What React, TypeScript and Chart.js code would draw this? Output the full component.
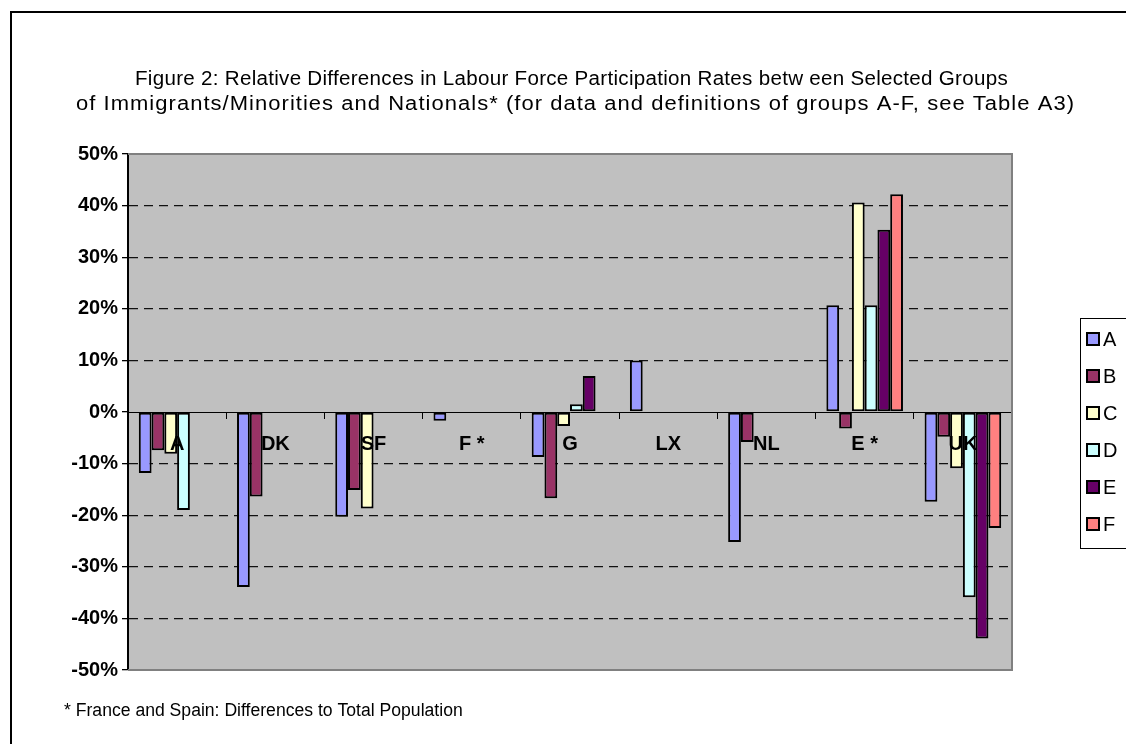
import React, { useEffect, useRef } from 'react';
import { Chart, registerables } from 'chart.js';

Chart.register(...registerables);

const categories = ['A', 'DK', 'SF', 'F *', 'G', 'LX', 'NL', 'E *', 'UK'];
const seriesNames = ['A', 'B', 'C', 'D', 'E', 'F'];
const seriesA = [-11.8, -33.9, -20.3, -1.7, -8.7, 10.0, -25.2, 20.7, -17.4];
const seriesB = [-7.4, -16.4, -15.1, null, -16.7, null, -5.8, -3.2, -4.8];
const seriesC = [-8.1, null, -18.7, null, -2.7, null, null, 40.6, -10.9];
const seriesD = [-19.0, null, null, null, 1.5, null, null, 20.7, -35.9];
const seriesE = [null, null, null, null, 7.0, null, null, 35.3, -43.9];
const seriesF = [null, null, null, null, null, null, null, 42.2, -22.5];
const seriesColors = ['#9999FF', '#993366', '#FFFFCC', '#CCFFFF', '#660066', '#FF8080'];
const yMin = -50;
const yMax = 50;
const yStep = 10;
const titleLines = [
  'Figure 2: Relative Differences in Labour Force Participation Rates betw een Selected Groups',
  'of Immigrants/Minorities and Nationals* (for data and definitions of groups A-F, see Table A3)',
];
const footnote = '* France and Spain: Differences to Total Population';

const FONT = '"Liberation Sans", Arial, sans-serif';

function spacedText(ctx: any, text: string, left: number, right: number, y: number) {
  ctx.save();
  ctx.letterSpacing = '0px';
  const w = ctx.measureText(text).width;
  const target = right - left;
  const ls = Math.max(0, (target - w) / text.length / 2);
  ctx.letterSpacing = `${ls}px`;
  const w2 = ctx.measureText(text).width;
  ctx.translate(left, y);
  if (w2 > 0) ctx.scale(target / w2, 1);
  ctx.textAlign = 'left';
  ctx.fillText(text, 0, 0);
  ctx.restore();
}

const decorPlugin = {
  id: 'decor',
  beforeDraw(chart: any) {
    const { ctx, chartArea: a } = chart;
    ctx.save();
    ctx.fillStyle = '#ffffff';
    ctx.fillRect(0, 0, chart.width, chart.height);
    ctx.fillStyle = '#C0C0C0';
    ctx.fillRect(a.left, a.top, a.right - a.left, a.bottom - a.top);
    // outer frame
    ctx.strokeStyle = '#000';
    ctx.lineWidth = 2;
    ctx.beginPath();
    ctx.moveTo(11, chart.height + 10);
    ctx.lineTo(11, 12);
    ctx.lineTo(chart.width + 10, 12);
    ctx.stroke();
    // title
    ctx.fillStyle = '#000';
    ctx.font = `20px ${FONT}`;
    ctx.textBaseline = 'middle';
    spacedText(ctx, titleLines[0], 135, 1008, 79);
    spacedText(ctx, titleLines[1], 76, 1075, 104);
    // footnote
    ctx.textAlign = 'left';
    ctx.font = `17.6px ${FONT}`;
    ctx.fillText(footnote, 64, 711);
    ctx.restore();
  },
  afterDraw(chart: any) {
    const { ctx, chartArea: a } = chart;
    ctx.save();
    ctx.strokeStyle = '#808080';
    ctx.lineWidth = 2;
    ctx.beginPath();
    ctx.moveTo(a.left, a.top);
    ctx.lineTo(a.right, a.top);
    ctx.lineTo(a.right, a.bottom);
    ctx.lineTo(a.left, a.bottom);
    ctx.stroke();
    // legend
    ctx.strokeStyle = '#000';
    ctx.lineWidth = 1;
    ctx.strokeRect(1080.5, 318.5, 80, 230);
    ctx.font = `20px ${FONT}`;
    ctx.textAlign = 'left';
    ctx.textBaseline = 'middle';
    chart.data.datasets.forEach((ds: any, i: number) => {
      const cy = 339 + i * 37;
      ctx.fillStyle = ds.backgroundColor;
      ctx.fillRect(1087, cy - 6, 12, 12);
      ctx.lineWidth = 2;
      ctx.strokeStyle = '#000';
      ctx.strokeRect(1087, cy - 6, 12, 12);
      ctx.fillStyle = '#000';
      ctx.fillText(ds.label, 1103, cy + 1);
    });
    ctx.restore();
  },
};

export default function App() {
  const ref = useRef<HTMLCanvasElement>(null);
  useEffect(() => {
    document.body.style.margin = '0';
    const allSeries = [seriesA, seriesB, seriesC, seriesD, seriesE, seriesF];
    const chart = new Chart(ref.current!, {
      type: 'bar',
      data: {
        labels: categories,
        datasets: allSeries.map((d, i) => ({
          label: seriesNames[i],
          data: d,
          backgroundColor: seriesColors[i],
          borderColor: '#000',
          borderWidth: 2,
          borderSkipped: false,
          barPercentage: 1,
          categoryPercentage: 0.78,
        })),
      },
      options: {
        responsive: false,
        animation: false,
        layout: { padding: { left: 0, top: 154, right: 114, bottom: 74 } },
        plugins: { legend: { display: false }, tooltip: { enabled: false }, title: { display: false } },
        scales: {
          y: {
            min: yMin,
            max: yMax,
            afterFit: (s: any) => { s.width = 128; },
            ticks: {
              stepSize: yStep,
              color: '#000',
              padding: 4,
              font: { family: FONT, size: 20, weight: 'bold' },
              callback: (v: any) => `${v}%`,
            },
            grid: {
              color: (c: any) => (c.tick && (c.tick.value === 0 || Math.abs(c.tick.value) === 50) ? 'rgba(0,0,0,0)' : '#111'),
              lineWidth: 1.3,
              tickLength: 6,
              tickColor: '#000',
            },
            border: { color: '#000', width: 2, dash: [9, 6] },
          },
          x: {
            position: { y: 0 } as any,
            ticks: {
              z: 1,
              color: '#000',
              padding: 14,
              maxRotation: 0,
              autoSkip: false,
              font: { family: FONT, size: 20, weight: 'bold' },
            },
            grid: {
              drawOnChartArea: false,
              offset: true,
              tickLength: 6,
              tickColor: '#000',
            },
            border: { color: '#000', width: 1, z: 1 },
          },
        },
      },
      plugins: [decorPlugin],
    });
    return () => chart.destroy();
  }, []);
  return (
    <div style={{ position: 'fixed', left: 0, top: 0 }}>
      <canvas ref={ref} width={1126} height={744} style={{ width: 1126, height: 744, display: 'block' }} />
    </div>
  );
}
